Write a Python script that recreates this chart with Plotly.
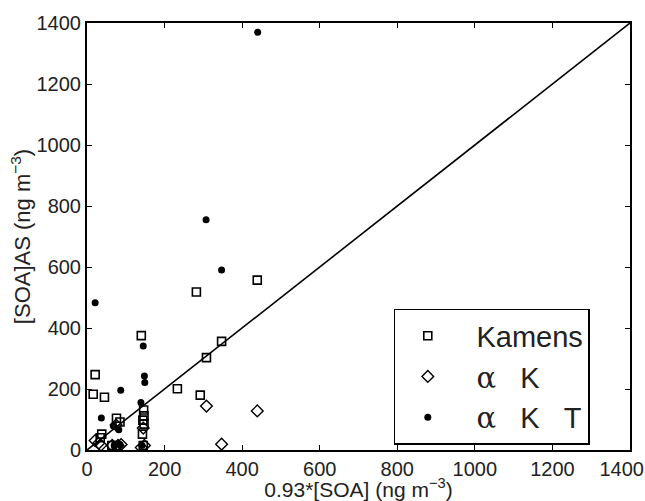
import plotly.graph_objects as go

# ---- data ----
kamens_x = [16, 21, 45, 34, 38, 64, 76, 76, 85, 140, 146, 147, 144, 147, 143, 145, 233, 282, 292, 308, 347, 439]
kamens_y = [183, 247, 173, 40, 52, 15, 15, 104, 92, 375, 131, 112, 98, 85, 52, 15, 201, 518, 180, 303, 356, 557]

alphaK_x = [21, 36, 30, 75, 65, 80, 88, 145, 148, 140, 308, 347, 439]
alphaK_y = [31, 16, 22, 82, 15, 15, 18, 72, 15, 8, 144, 19, 128]

alphaKT_x = [21, 37, 68, 82, 87, 139, 145, 148, 149, 307, 347, 440, 70, 85, 142]
alphaKT_y = [483, 105, 79, 66, 196, 156, 341, 243, 221, 755, 590, 1370, 15, 18, 15]

one_to_one = [0, 1400]
ticks = [0, 200, 400, 600, 800, 1000, 1200, 1400]
tick_labels = [str(t) for t in ticks]

NB = "\u00a0"
# last x label is pushed slightly inward (as in the reference) by padding it on the right
x_tick_labels = tick_labels[:-1] + [tick_labels[-1] + NB * 3]

alpha = '<span style="font-family:\'DejaVu Serif\'">α</span>'
lead = NB * 2
names = [lead + "Kamens",
         lead + alpha + NB * 3 + "K",
         lead + alpha + NB * 3 + "K" + NB * 3 + "T"]

FONT = "Liberation Sans, Arial, sans-serif"

fig = go.Figure()
fig.add_trace(go.Scatter(x=one_to_one, y=one_to_one, mode="lines",
                         line=dict(color="black", width=1.6), showlegend=False, hoverinfo="skip"))
fig.add_trace(go.Scatter(x=kamens_x, y=kamens_y, mode="markers", name=names[0],
                         marker=dict(symbol="square-open", size=8, color="black", line=dict(width=1.6))))
fig.add_trace(go.Scatter(x=alphaK_x, y=alphaK_y, mode="markers", name=names[1],
                         marker=dict(symbol="diamond-open", size=9, color="black", line=dict(width=1.4))))
fig.add_trace(go.Scatter(x=alphaKT_x, y=alphaKT_y, mode="markers", name=names[2],
                         marker=dict(symbol="circle", size=7, color="black", line=dict(width=0))))

axis_common = dict(
    range=[0, 1400], tickmode="array", tickvals=ticks,
    showgrid=False, zeroline=False, showline=True, linecolor="black", linewidth=2,
    mirror="ticks", ticks="inside", ticklen=5, tickwidth=1.2, tickcolor="black",
    tickfont=dict(family=FONT, size=20, color="#222"),
    ticklabeloverflow="allow", automargin=False,
)

fig.update_layout(
    width=645, height=501,
    margin=dict(l=87, r=15, t=23, b=51),
    paper_bgcolor="white", plot_bgcolor="white",
    font=dict(family=FONT, color="#222"),
    xaxis=dict(**axis_common, ticktext=x_tick_labels,
               title=dict(text="0.93*[SOA] (ng m<sup>−3</sup>)", font=dict(family=FONT, size=21), standoff=8)),
    yaxis=dict(**axis_common, ticktext=tick_labels,
               title=dict(text="[SOA]AS (ng m<sup>−3</sup>)", font=dict(family=FONT, size=22), standoff=0)),
    legend=dict(x=0.565, y=0.012, xanchor="left", yanchor="bottom",
                bordercolor="black", borderwidth=1.5, bgcolor="white",
                font=dict(family=FONT, size=29, color="#222"),
                itemwidth=55, tracegroupgap=0),
)

fig.write_html("out.html")
